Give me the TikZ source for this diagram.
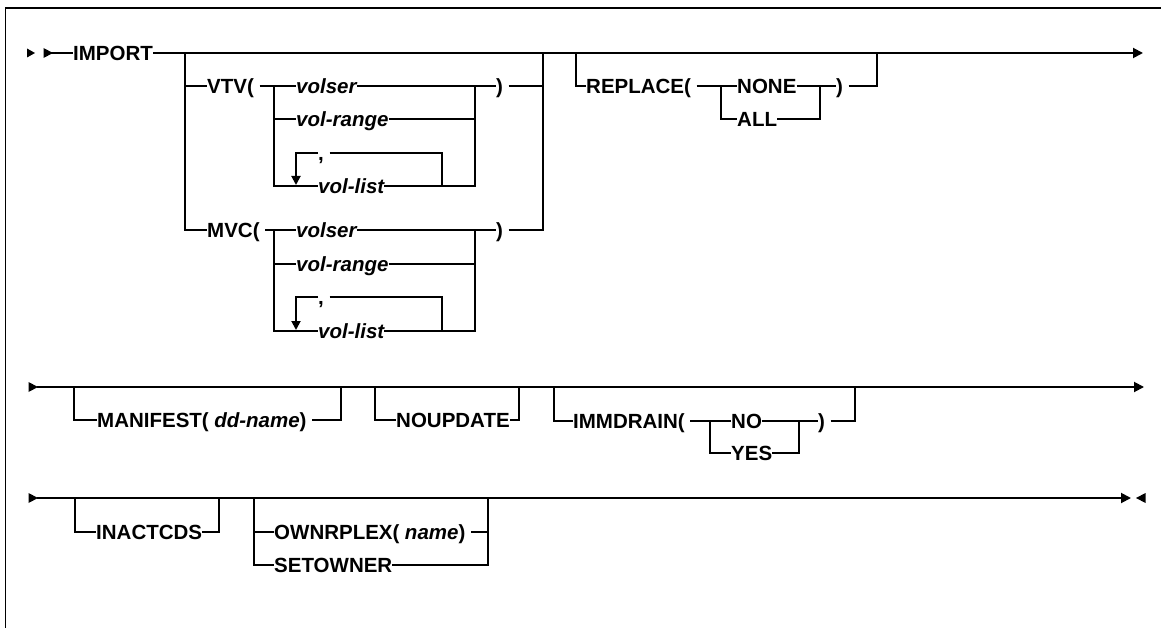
\documentclass[tikz,border=0pt]{standalone}
\usepackage{fontspec}
\setmainfont{Liberation Sans}
\usetikzlibrary{arrows.meta,calc}
\newcommand\trsp{\kern5.5pt}
\begin{document}
\begin{tikzpicture}[x=1pt,y=-1pt,
  rr/.style={line width=1.9pt},
  endarrow/.style={rr,-{Triangle[length=10pt,width=10pt]}},
  looparrow/.style={rr,-{Triangle[length=9pt,width=9pt]},shorten >=1pt},
  kw/.style={anchor=west,inner sep=0pt,font=\fontsize{20.5}{24}\selectfont\bfseries,text height=14.7pt,text depth=0pt},
  var/.style={kw,font=\fontsize{20.5}{24}\selectfont\bfseries\itshape},
  starttri/.style={fill=black}
]
\useasboundingbox (0,0) rectangle (1161,628);
% frame
\draw[line width=1.8pt] (1161,8) -- (5.5,8) -- (5.5,628);

% ================= Row 1 =================
\fill[starttri] (27,48.5) -- (35,53) -- (27,57.5) -- cycle;
\fill[starttri] (43.5,48) -- (53,53) -- (43.5,58) -- cycle;
\coordinate (s1) at (51,53);
\coordinate (e1) at (1143,53);
\node[kw] (import) at (73,53) {IMPORT};
\draw[rr] (s1) -- (import.west);
\draw[endarrow] (import.east) -- (e1);

% VTV / MVC group
\coordinate (vL) at (185,53);
\coordinate (vR) at (543,53);
\node[kw] (vtv) at (207,86) {VTV(\trsp};
\node[kw] (mvc) at (207,230) {MVC(\trsp};
\draw[rr] (vL) |- (mvc.west);
\draw[rr] (vL |- vtv.west) -- (vtv.west);

% VTV choices
\coordinate (vj1) at (274,86);
\coordinate (vj2) at (475,86);
\node[var] (vser1) at (296,86) {volser};
\node[var] (vrng1) at (296,119) {vol-range};
\node[kw]  (vcom1) at (318,153) {,\trsp};
\node[var] (vlst1) at (318,186) {vol-list};
\node[kw]  (vpar1) at (496,86) {)\trsp};
\draw[rr] (vtv.east) -- (vser1.west);
\draw[rr] (vj1) |- (vlst1.west);
\draw[rr] (vj1 |- vrng1.west) -- (vrng1.west);
\draw[rr] (vser1.east) -- (vpar1.west);
\draw[rr] (vrng1.east) -- (vj2 |- vrng1.west);
\draw[rr] (vlst1.east) -| (vj2);
\draw[looparrow] (vcom1.west) -| ($(vlst1.west)+(-22,0)$);
\draw[rr] (vcom1.east) -| ($(vlst1.west)+(124,0)$);
\draw[rr] (vpar1.east) -- (vR |- vpar1.east);

% MVC choices
\coordinate (mj1) at (274,230);
\coordinate (mj2) at (475,230);
\node[var] (vser2) at (296,230) {volser};
\node[var] (vrng2) at (296,264) {vol-range};
\node[kw]  (vcom2) at (318,297) {,\trsp};
\node[var] (vlst2) at (318,331) {vol-list};
\node[kw]  (vpar2) at (496,230) {)\trsp};
\draw[rr] (mvc.east) -- (vser2.west);
\draw[rr] (mj1) |- (vlst2.west);
\draw[rr] (mj1 |- vrng2.west) -- (vrng2.west);
\draw[rr] (vser2.east) -- (vpar2.west);
\draw[rr] (vrng2.east) -- (mj2 |- vrng2.west);
\draw[rr] (vlst2.east) -| (mj2);
\draw[looparrow] (vcom2.west) -| ($(vlst2.west)+(-22,0)$);
\draw[rr] (vcom2.east) -| ($(vlst2.west)+(124,0)$);
\draw[rr] (vpar2.east) -| (vR);

% REPLACE group
\coordinate (rL) at (576,53);
\coordinate (rR) at (877,53);
\coordinate (rj1) at (721,86);
\coordinate (rj2) at (820,86);
\node[kw] (repl) at (586,86) {REPLACE(\trsp};
\node[kw] (none) at (737,86) {NONE};
\node[kw] (all)  at (737,119) {ALL};
\node[kw] (rpar) at (836,86) {)\trsp};
\draw[rr] (rL) |- (repl.west);
\draw[rr] (repl.east) -- (none.west);
\draw[rr] (rj1) |- (all.west);
\draw[rr] (none.east) -- (rpar.west);
\draw[rr] (all.east) -| (rj2);
\draw[rr] (rpar.east) -| (rR);

% ================= Row 2 =================
\fill[starttri] (28.5,382) -- (38,387) -- (28.5,392) -- cycle;
\coordinate (s2) at (37,387);
\coordinate (e2) at (1144,387);
\draw[endarrow] (s2) -- (e2);

\coordinate (mL) at (74,387);
\coordinate (mR) at (341,387);
\node[kw] (mani) at (97,420) {MANIFEST(\trsp\textit{dd-name})\trsp};
\draw[rr] (mL) |- (mani.west);
\draw[rr] (mani.east) -| (mR);

\coordinate (nL) at (375,387);
\coordinate (nR) at (519,387);
\node[kw] (noup) at (396,420) {NOUPDATE};
\draw[rr] (nL) |- (noup.west);
\draw[rr] (noup.east) -| (nR);

\coordinate (iL) at (554,387);
\coordinate (iR) at (855,387);
\coordinate (ij1) at (710,421);
\coordinate (ij2) at (799,421);
\node[kw] (imm) at (573,421) {IMMDRAIN(\trsp};
\node[kw] (no)  at (731,421) {NO};
\node[kw] (yes) at (731,453) {YES};
\node[kw] (ipar) at (818,421) {)\trsp};
\draw[rr] (iL) |- (imm.west);
\draw[rr] (imm.east) -- (no.west);
\draw[rr] (ij1) |- (yes.west);
\draw[rr] (no.east) -- (ipar.west);
\draw[rr] (yes.east) -| (ij2);
\draw[rr] (ipar.east) -| (iR);

% ================= Row 3 =================
\fill[starttri] (28.5,493) -- (38,498) -- (28.5,503) -- cycle;
\coordinate (s3) at (37,498);
\coordinate (e3) at (1131,498);
\draw[endarrow] (s3) -- (e3);
\fill[starttri] (1145.5,493) -- (1136,498) -- (1145.5,503) -- cycle;

\coordinate (aL) at (75,498);
\coordinate (aR) at (219,498);
\node[kw] (inact) at (96,532) {INACTCDS};
\draw[rr] (aL) |- (inact.west);
\draw[rr] (inact.east) -| (aR);

\coordinate (oL) at (254,498);
\coordinate (oR) at (488,498);
\node[kw] (own) at (274,532) {OWNRPLEX(\trsp\textit{name})\trsp};
\node[kw] (seto) at (274,565) {SETOWNER};
\draw[rr] (oL) |- (seto.west);
\draw[rr] (oL |- own.west) -- (own.west);
\draw[rr] (own.east) -- (oR |- own.east);
\draw[rr] (seto.east) -| (oR);
\end{tikzpicture}
\end{document}
